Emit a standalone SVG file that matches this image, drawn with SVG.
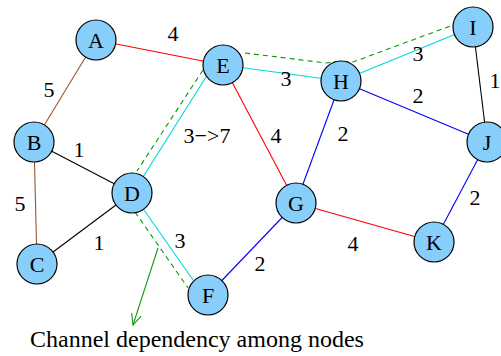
<svg xmlns="http://www.w3.org/2000/svg" width="501" height="356" viewBox="0 0 501 356">
<defs>
<style>
.n circle{fill:#87cefa;stroke:#000;stroke-width:1.2}
.e{fill:none;stroke-width:1.1}
.red{stroke:#ff0000}.cy{stroke:#00d8d8}.bl{stroke:#0000ff}.bk{stroke:#000}.br{stroke:#a0522d}
.dep{fill:none;stroke:#009a00;stroke-width:1.1;stroke-dasharray:5 4}
</style>
<marker id="ah" viewBox="0 0 12 12" refX="11" refY="6" markerWidth="12" markerHeight="12" markerUnits="userSpaceOnUse" orient="auto">
<path d="M0,1 L11,6 L0,11" fill="none" stroke="#119a11" stroke-width="1.1"/>
</marker>
</defs>
<rect width="501" height="356" fill="#fff"/>
<g id="connectors">
<line class="e red" x1="96" y1="40" x2="223" y2="65"/>
<line class="e br" x1="96" y1="40" x2="34" y2="142"/>
<line class="e br" x1="34" y1="142" x2="37" y2="264"/>
<line class="e bk" x1="34" y1="142" x2="132" y2="193"/>
<line class="e bk" x1="37" y1="264" x2="132" y2="193"/>
<line class="e cy" x1="206" y1="77" x2="143" y2="177"/>
<line class="e cy" x1="144" y1="210" x2="193" y2="280"/>
<line class="e cy" x1="223" y1="65" x2="341" y2="81"/>
<line class="e cy" x1="341" y1="81" x2="473" y2="27"/>
<line class="e red" x1="223" y1="65" x2="296" y2="203"/>
<line class="e bl" x1="341" y1="81" x2="296" y2="203"/>
<line class="e bl" x1="341" y1="81" x2="487" y2="142"/>
<line class="e bk" x1="473" y1="27" x2="487" y2="142"/>
<line class="e bl" x1="487" y1="142" x2="434" y2="242"/>
<line class="e red" x1="296" y1="203" x2="434" y2="242"/>
<line class="e bl" x1="296" y1="203" x2="208" y2="295"/>
<line class="dep" x1="203" y1="70" x2="137" y2="171"/>
<line class="dep" x1="135" y1="212" x2="188" y2="288"/>
<polyline class="dep" points="245,53 326,63 341,61 353,62 453,25"/>
<line x1="158" y1="248" x2="133" y2="325" stroke="#119a11" stroke-width="1.1" marker-end="url(#ah)"/>
<text x="173" y="41" font-family="Liberation Serif" font-size="22" text-anchor="middle">4</text>
<text x="49" y="97" font-family="Liberation Serif" font-size="22" text-anchor="middle">5</text>
<text x="79" y="157" font-family="Liberation Serif" font-size="22" text-anchor="middle">1</text>
<text x="207" y="143" font-family="Liberation Serif" font-size="22" text-anchor="middle">3−&gt;7</text>
<text x="20" y="211" font-family="Liberation Serif" font-size="22" text-anchor="middle">5</text>
<text x="99" y="250" font-family="Liberation Serif" font-size="22" text-anchor="middle">1</text>
<text x="180" y="248" font-family="Liberation Serif" font-size="22" text-anchor="middle">3</text>
<text x="260" y="271" font-family="Liberation Serif" font-size="22" text-anchor="middle">2</text>
<text x="353" y="251" font-family="Liberation Serif" font-size="22" text-anchor="middle">4</text>
<text x="475" y="205" font-family="Liberation Serif" font-size="22" text-anchor="middle">2</text>
<text x="286" y="86" font-family="Liberation Serif" font-size="22" text-anchor="middle">3</text>
<text x="276" y="143" font-family="Liberation Serif" font-size="22" text-anchor="middle">4</text>
<text x="343" y="141" font-family="Liberation Serif" font-size="22" text-anchor="middle">2</text>
<text x="418" y="103" font-family="Liberation Serif" font-size="22" text-anchor="middle">2</text>
<text x="418" y="61" font-family="Liberation Serif" font-size="22" text-anchor="middle">3</text>
<text x="495" y="88" font-family="Liberation Serif" font-size="22" text-anchor="middle">1</text>
</g>
<g id="A" class="n"><circle cx="96" cy="40" r="20"/><text x="96" y="48" font-family="Liberation Serif" font-size="22" text-anchor="middle">A</text></g>
<g id="B" class="n"><circle cx="34" cy="142" r="20"/><text x="34" y="150" font-family="Liberation Serif" font-size="22" text-anchor="middle">B</text></g>
<g id="C" class="n"><circle cx="37" cy="264" r="20"/><text x="37" y="272" font-family="Liberation Serif" font-size="22" text-anchor="middle">C</text></g>
<g id="D" class="n"><circle cx="132" cy="193" r="20"/><text x="132" y="201" font-family="Liberation Serif" font-size="22" text-anchor="middle">D</text></g>
<g id="E" class="n"><circle cx="223" cy="65" r="20"/><text x="223" y="73" font-family="Liberation Serif" font-size="22" text-anchor="middle">E</text></g>
<g id="F" class="n"><circle cx="208" cy="295" r="20"/><text x="208" y="303" font-family="Liberation Serif" font-size="22" text-anchor="middle">F</text></g>
<g id="G" class="n"><circle cx="296" cy="203" r="20"/><text x="296" y="211" font-family="Liberation Serif" font-size="22" text-anchor="middle">G</text></g>
<g id="H" class="n"><circle cx="341" cy="81" r="20"/><text x="341" y="89" font-family="Liberation Serif" font-size="22" text-anchor="middle">H</text></g>
<g id="I" class="n"><circle cx="473" cy="27" r="20"/><text x="473" y="35" font-family="Liberation Serif" font-size="22" text-anchor="middle">I</text></g>
<g id="J" class="n"><circle cx="487" cy="142" r="20"/><text x="487" y="150" font-family="Liberation Serif" font-size="22" text-anchor="middle">J</text></g>
<g id="K" class="n"><circle cx="434" cy="242" r="20"/><text x="434" y="250" font-family="Liberation Serif" font-size="22" text-anchor="middle">K</text></g>
<text x="30" y="347" font-size="24" font-family="Liberation Serif">Channel dependency among nodes</text>
</svg>
